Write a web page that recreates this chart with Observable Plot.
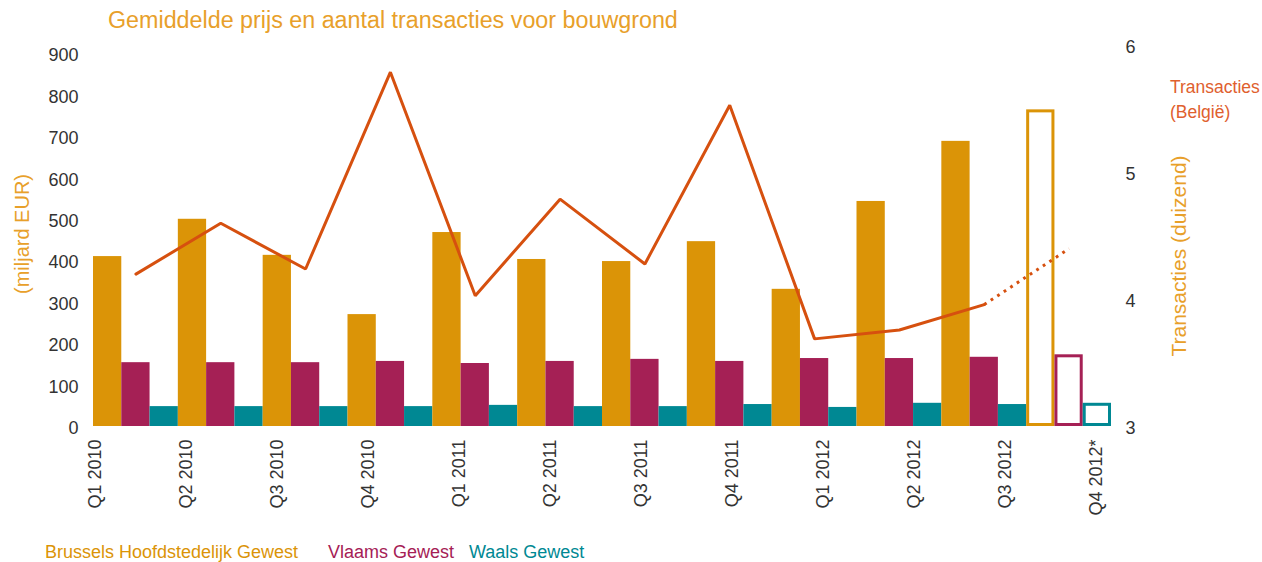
<!DOCTYPE html>
<html>
<head>
<meta charset="utf-8">
<script src="https://cdn.jsdelivr.net/npm/d3@7"></script>
<script src="https://cdn.jsdelivr.net/npm/@observablehq/plot@0.6"></script>
<style>
  html, body { margin: 0; padding: 0; background: #fff; overflow: hidden; }
  #wrap { position: relative; width: 1262px; height: 562px; font-family: "Liberation Sans", Arial, sans-serif; }
  #wrap svg { position: absolute; left: 0; top: 0; }
  .txt { position: absolute; white-space: nowrap; line-height: 1; }
  .rot { transform: translate(-50%, -50%) rotate(-90deg); }
</style>
</head>
<body>
<div id="wrap"></div>
<script>
// ---- Data ----
const quarters = ["Q1 2010","Q2 2010","Q3 2010","Q4 2010","Q1 2011","Q2 2011","Q3 2011","Q4 2011","Q1 2012","Q2 2012","Q3 2012","Q4 2012*"];
const seriesNames = ["Brussels Hoofdstedelijk Gewest","Vlaams Gewest","Waals Gewest"];
const brussels = [410, 500, 413, 270, 468, 403, 398, 446, 331, 543, 688, 764];
const vlaams   = [154, 154, 154, 157, 152, 157, 162, 157, 164, 164, 167, 173];
const waals    = [ 48,  48,  48,  48,  51,  48,  48,  53,  46,  56,  53,  56];
const transacties = [4.20, 4.60, 4.24, 5.79, 4.03, 4.79, 4.28, 5.53, 3.69, 3.76, 3.96, 4.40]; // duizend
const estimated = [false,false,false,false,false,false,false,false,false,false,false,true];
const leftTicks = [0,100,200,300,400,500,600,700,800,900];
const rightTicks = [3,4,5,6];

// ---- Styling ----
const seriesColors = ["#DB9407", "#A52055", "#008893"];
const lineColor = "#D6500F";
const titleColor = "#E8A02A";
const font = "'Liberation Sans', Arial, sans-serif";

// left axis top value that lines up with the right axis maximum (6)
const leftMax = 919.3;
const rightMin = 3, rightMax = 6;
const toLeft = v => (v - rightMin) / (rightMax - rightMin) * leftMax;
const fromLeft = d => Math.round(d / leftMax * (rightMax - rightMin) + rightMin);

const valuesBySeries = [brussels, vlaams, waals];
const bars = [];
quarters.forEach((q, i) => {
  valuesBySeries.forEach((vals, k) => {
    bars.push({quarter: q, series: seriesNames[k], x1: i + k / 3, x2: i + (k + 1) / 3, value: vals[i], est: estimated[i]});
  });
});
const linePts = quarters.map((q, i) => ({quarter: q, x: i + 0.5, y: toLeft(transacties[i]), est: estimated[i]}));
const solidPts = linePts.filter(d => !d.est);
const lastSolid = solidPts[solidPts.length - 1];
const dottedPts = [lastSolid, ...linePts.filter(d => d.est)];

const wrap = document.getElementById("wrap");

const chart = Plot.plot({
  width: 1262, height: 440,
  marginTop: 45, marginBottom: 14, marginLeft: 93, marginRight: 151,
  style: {background: "transparent", fontFamily: font, color: "#333"},
  x: {domain: [0, quarters.length], axis: null},
  y: {domain: [0, leftMax], axis: null},
  color: {domain: seriesNames, range: seriesColors},
  marks: [
    Plot.rectY(bars.filter(d => !d.est), {x1: "x1", x2: "x2", y1: 0, y2: "value", fill: "series"}),
    Plot.rectY(bars.filter(d => d.est), {x1: "x1", x2: "x2", y1: 0, y2: "value", fill: "white", stroke: "series", strokeWidth: 3, inset: 1.5}),
    Plot.line(solidPts, {x: "x", y: "y", stroke: lineColor, strokeWidth: 3, strokeLinejoin: "miter"}),
    Plot.line(dottedPts, {x: "x", y: "y", stroke: lineColor, strokeWidth: 3, strokeDasharray: "2.8,5", strokeLinecap: "butt"}),
    Plot.axisY({ticks: leftTicks, tickSize: 0, tickPadding: 15, fontSize: 18, dy: 2}),
    Plot.axisY({anchor: "right", ticks: rightTicks.map(toLeft), tickFormat: fromLeft, tickSize: 0, tickPadding: 14, fontSize: 18, dy: 2})
  ]
});
wrap.appendChild(chart);

const xAxis = Plot.plot({
  width: 1262, height: 562,
  marginTop: 0, marginBottom: 136, marginLeft: 0, marginRight: 0,
  style: {background: "transparent", fontFamily: font, color: "#333"},
  x: {type: "point", domain: quarters, range: [91, 1100], padding: 0},
  marks: [
    Plot.axisX({tickRotate: -90, tickSize: 0, tickPadding: 13, fontSize: 18, textAnchor: "end", lineAnchor: "middle"})
  ]
});
wrap.appendChild(xAxis);

function addText(text, css, cls) {
  const d = document.createElement("div");
  d.className = "txt" + (cls ? " " + cls : "");
  d.textContent = text;
  Object.assign(d.style, css);
  wrap.appendChild(d);
  return d;
}
addText("Gemiddelde prijs en aantal transacties voor bouwgrond", {left: "108px", top: "9px", fontSize: "23.3px", color: titleColor});
addText("(miljard EUR)", {left: "22px", top: "234px", fontSize: "20px", color: titleColor}, "rot");
addText("Transacties (duizend)", {left: "1178px", top: "256px", fontSize: "21px", color: titleColor}, "rot");
const bel = addText("", {left: "1170px", top: "75px", fontSize: "17.5px", color: "#E0602E", lineHeight: "25px"});
bel.innerHTML = "Transacties<br>(België)";
const legendLeft = [45, 328, 469];
seriesNames.forEach((s, k) => addText(s, {left: legendLeft[k] + "px", top: "543px", fontSize: "18px", color: seriesColors[k]}));
</script>
</body>
</html>
